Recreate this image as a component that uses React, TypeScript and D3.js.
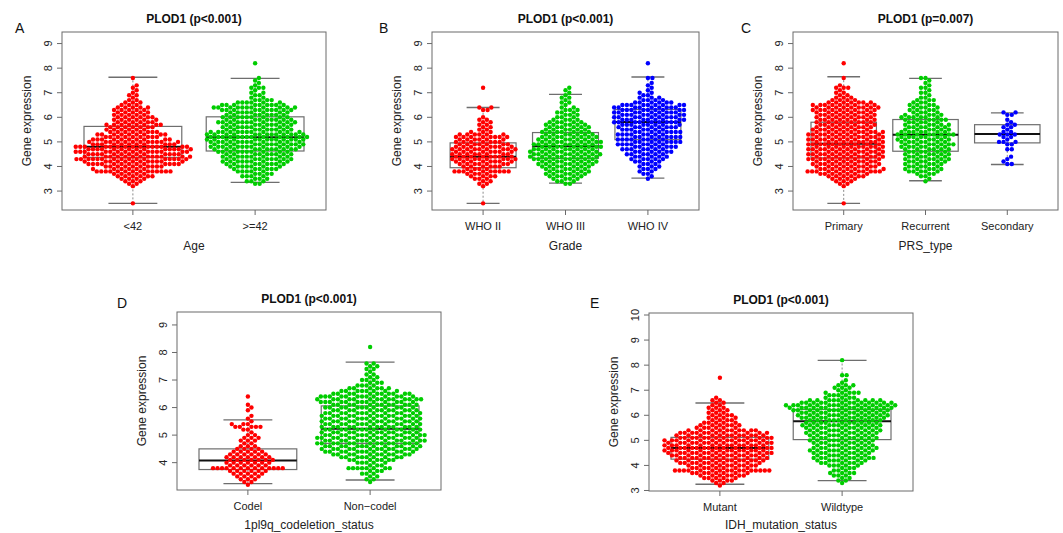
import React, { useMemo } from 'react';
import * as d3 from 'd3';

const BIN_START = 2.5;
const BIN_STEP = 0.1;

const ageUnder42 = [
  1, 0, 0, 0, 0, 0, 0, 1, 2, 3, // 2.5-3.4
  4, 6, 5, 14, 6, 10, 13, 12, 16, 13, // 3.5-4.4
  13, 15, 14, 15, 11, 12, 10, 9, 9, 8, // 4.5-5.4
  6, 7, 8, 6, 6, 6, 5, 5, 5, 5, // 5.5-6.4
  3, 3, 2, 1, 2, 1, 1, 1, 1, 0, // 6.5-7.4
  0, 1, 0, 0, 0, 0, 0, 0, // 7.5-8.2
];
const ageOver42 = [
  0, 0, 0, 0, 0, 0, 0, 0, 2, 3,
  3, 4, 4, 5, 6, 7, 8, 9, 9, 9,
  9, 10, 11, 12, 12, 12, 13, 13, 13, 12,
  9, 9, 9, 11, 9, 9, 8, 8, 10, 11,
  9, 6, 4, 2, 2, 2, 1, 3, 1, 1,
  1, 1, 0, 0, 0, 0, 0, 1,
];
const whoII = [
  1, 0, 0, 0, 0, 0, 0, 1, 2, 2,
  3, 4, 4, 10, 4, 6, 7, 8, 9, 8,
  8, 8, 9, 8, 7, 7, 6, 8, 6, 3,
  2, 2, 2, 2, 2, 1, 0, 0, 2, 2,
  0, 0, 0, 0, 0, 0, 0, 1, 0, 0,
  0, 0, 0, 0, 0, 0, 0, 0,
];
const whoIII = [
  0, 0, 0, 0, 0, 0, 0, 0, 2, 3,
  4, 5, 6, 6, 6, 7, 8, 8, 9, 9,
  10, 9, 9, 9, 9, 9, 8, 8, 7, 7,
  6, 6, 6, 5, 4, 3, 3, 3, 3, 2,
  1, 2, 1, 2, 1, 1, 1, 1, 0, 0,
  0, 0, 0, 0, 0, 0, 0, 0,
];
const whoIV = [
  0, 0, 0, 0, 0, 0, 0, 0, 0, 0,
  1, 1, 2, 2, 3, 3, 3, 4, 5, 5,
  6, 6, 7, 7, 8, 8, 8, 8, 8, 8,
  7, 8, 8, 9, 9, 9, 9, 9, 9, 9,
  9, 6, 4, 3, 2, 2, 1, 1, 1, 1,
  0, 2, 0, 0, 0, 0, 0, 1,
];
const primary = [
  1, 0, 0, 0, 0, 0, 0, 1, 2, 3,
  4, 6, 7, 12, 8, 9, 9, 9, 10, 10,
  10, 10, 10, 10, 10, 10, 10, 10, 10, 10,
  8, 8, 8, 8, 8, 8, 8, 8, 9, 9,
  9, 7, 4, 3, 2, 2, 1, 3, 1, 0,
  0, 1, 0, 0, 0, 0, 0, 1,
];
const recurrent = [
  0, 0, 0, 0, 0, 0, 0, 0, 0, 1,
  1, 2, 3, 5, 5, 5, 5, 6, 6, 6,
  6, 6, 6, 7, 7, 7, 7, 7, 8, 7,
  6, 6, 6, 5, 6, 6, 5, 4, 4, 4,
  4, 3, 3, 2, 1, 2, 1, 2, 1, 1,
  1, 2, 0, 0, 0, 0, 0, 0,
];
const secondary = [
  0, 0, 0, 0, 0, 0, 0, 0, 0, 0,
  0, 0, 0, 0, 0, 0, 2, 1, 1, 1,
  0, 0, 2, 0, 2, 3, 1, 2, 3, 2,
  1, 2, 2, 1, 1, 0, 2, 2, 0, 0,
  0, 0, 0, 0, 0, 0, 0, 0, 0, 0,
  0, 0, 0, 0, 0, 0, 0, 0,
];
const codel = [
  0, 0, 0, 0, 0, 0, 0, 1, 2, 3,
  4, 5, 6, 13, 6, 7, 7, 7, 6, 5,
  4, 3, 2, 3, 3, 2, 1, 2, 5, 3,
  1, 1, 1, 0, 1, 1, 1, 0, 0, 1,
  0, 0, 0, 0, 0, 0, 0, 0, 0, 0,
  0, 0, 0, 0, 0, 0, 0, 0,
];
const nonCodel = [
  0, 0, 0, 0, 0, 0, 0, 0, 1, 2,
  2, 3, 3, 8, 3, 5, 7, 9, 11, 12,
  13, 13, 14, 14, 14, 14, 13, 13, 13, 13,
  13, 13, 13, 13, 12, 12, 12, 13, 14, 13,
  11, 8, 6, 4, 3, 3, 2, 2, 1, 2,
  2, 2, 0, 0, 0, 0, 0, 1,
];
const idhMutant = [
  0, 0, 0, 0, 0, 0, 0, 1, 2, 4,
  5, 7, 8, 16, 8, 10, 11, 12, 12, 13,
  14, 14, 14, 14, 14, 14, 13, 12, 12, 10,
  6, 6, 5, 4, 4, 4, 3, 3, 3, 2,
  2, 2, 1, 0, 0, 0, 0, 0, 0, 0,
  1, 0, 0, 0, 0, 0, 0, 0,
];
const idhWildtype = [
  0, 0, 0, 0, 0, 0, 0, 0, 1, 2,
  2, 3, 4, 3, 3, 5, 6, 7, 9, 7,
  8, 9, 9, 8, 8, 9, 9, 9, 10, 10,
  10, 11, 10, 10, 12, 12, 12, 13, 14, 15,
  13, 10, 4, 4, 5, 2, 3, 3, 1, 1,
  0, 2, 0, 0, 0, 0, 0, 1,
];

// boxplot stats: [lower whisker, Q1, median, Q3, upper whisker]
const ageBoxes = [
  [2.5, 4.37, 4.8, 5.63, 7.63],
  [3.35, 4.63, 5.19, 6.02, 7.58],
];
const gradeBoxes = [
  [2.5, 3.95, 4.4, 4.96, 6.4],
  [3.32, 4.33, 4.82, 5.38, 6.93],
  [3.53, 5.09, 5.81, 6.32, 7.64],
];
const prsBoxes = [
  [2.5, 4.35, 4.92, 5.8, 7.65],
  [3.42, 4.62, 5.29, 5.91, 7.58],
  [4.08, 4.96, 5.32, 5.7, 6.18],
];
const codelBoxes = [
  [3.24, 3.75, 4.08, 4.5, 5.55],
  [3.37, 4.7, 5.23, 6.06, 7.65],
];
const idhBoxes = [
  [3.25, 4.25, 4.7, 5.12, 6.49],
  [3.39, 5.03, 5.76, 6.23, 8.19],
];

const ageLabels = ['<42', '>=42'];
const gradeLabels = ['WHO II', 'WHO III', 'WHO IV'];
const prsLabels = ['Primary', 'Recurrent', 'Secondary'];
const codelLabels = ['Codel', 'Non\u2212codel'];
const idhLabels = ['Mutant', 'Wildtype'];

const COLORS = ['#ff0000', '#00cd00', '#0000ff'];
const FONT = '"Liberation Sans", Arial, Helvetica, sans-serif';
const DOT_R = 2.2;
const SWARM_D = 4.5;

const panels = [
  {
    letter: 'A', letterX: 15, letterY: 33, left: 62, right: 326, top: 32, bottom: 210, xTitleY: 249.5,
    yDomain: [2.23, 9.47], title: 'PLOD1 (p<0.001)', xTitle: 'Age',
    counts: [ageUnder42, ageOver42], boxes: ageBoxes, labels: ageLabels,
  },
  {
    letter: 'B', letterX: 379, letterY: 33, left: 432, right: 699, top: 32, bottom: 210, xTitleY: 249.5,
    yDomain: [2.23, 9.47], title: 'PLOD1 (p<0.001)', xTitle: 'Grade',
    counts: [whoII, whoIII, whoIV], boxes: gradeBoxes, labels: gradeLabels,
  },
  {
    letter: 'C', letterX: 741, letterY: 33, left: 793, right: 1058, top: 32, bottom: 210, xTitleY: 249.5,
    yDomain: [2.23, 9.47], title: 'PLOD1 (p=0.007)', xTitle: 'PRS_type',
    counts: [primary, recurrent, secondary], boxes: prsBoxes, labels: prsLabels,
  },
  {
    letter: 'D', letterX: 117, letterY: 308, left: 177, right: 441, top: 312, bottom: 490, xTitleY: 528.5,
    yDomain: [3.007, 9.47], title: 'PLOD1 (p<0.001)', xTitle: '1pl9q_codeletion_status',
    counts: [codel, nonCodel], boxes: codelBoxes, labels: codelLabels,
  },
  {
    letter: 'E', letterX: 590, letterY: 308, left: 649, right: 913, top: 313, bottom: 491, xTitleY: 528.5,
    yDomain: [2.98, 10.08], title: 'PLOD1 (p<0.001)', xTitle: 'IDH_mutation_status',
    counts: [idhMutant, idhWildtype], boxes: idhBoxes, labels: idhLabels,
  },
];

const expand = (counts: number[]) =>
  counts.flatMap((c, i) => d3.range(c).map(() => +(BIN_START + i * BIN_STEP).toFixed(2)));

// beeswarm "swarm" placement: lowest values first, each point goes to the
// free x offset nearest the centre line.
function swarm(ys: number[], d: number) {
  const order = d3.range(ys.length).sort((a, b) => ys[b] - ys[a]);
  const xs = new Array(ys.length).fill(0);
  const placed: number[] = [];
  for (const i of order) {
    const yi = ys[i];
    const near = placed.filter((j) => Math.abs(ys[j] - yi) < d);
    const cands = [0];
    for (const j of near) {
      const dx = Math.sqrt(d * d - (ys[j] - yi) ** 2);
      cands.push(xs[j] + dx, xs[j] - dx);
    }
    cands.sort((a, b) => Math.abs(a) - Math.abs(b));
    let best = 0;
    for (const c of cands) {
      if (near.every((j) => (xs[j] - c) ** 2 + (ys[j] - yi) ** 2 >= d * d - 1e-6)) {
        best = c;
        break;
      }
    }
    xs[i] = best;
    placed.push(i);
  }
  return xs;
}

const Panel = ({ p }: { p: (typeof panels)[number] }) => {
  const n = p.labels.length;
  const x = d3
    .scaleLinear()
    .domain([0.5 - 0.04 * n, n + 0.5 + 0.04 * n])
    .range([p.left, p.right]);
  const y = d3.scaleLinear().domain(p.yDomain).range([p.bottom, p.top]);
  const yTicks = d3.range(Math.ceil(p.yDomain[0]), Math.floor(p.yDomain[1]) + 1);
  const unit = x(1) - x(0);

  const points = useMemo(
    () =>
      p.counts.map((c, g) => {
        const vals = expand(c);
        const ys = vals.map((v) => y(v));
        const xs = swarm(ys, SWARM_D);
        return vals.map((v, i) => ({ cx: x(g + 1) + xs[i], cy: ys[i] }));
      }),
    [p],
  );

  const midX = (p.left + p.right) / 2;
  const midY = (p.top + p.bottom) / 2;

  return (
    <g>
      <text x={p.letterX} y={p.letterY} fontSize={14} fill="#111">{p.letter}</text>
      <text x={midX} y={p.top - 9.5} textAnchor="middle" fontSize={12} fontWeight="bold" fill="#111">
        {p.title}
      </text>

      {/* boxplots underneath the swarm */}
      {p.boxes.map((b, g) => {
        const cx = x(g + 1);
        const hw = unit * 0.4;
        const sw = unit * 0.2;
        return (
          <g key={g}>
            <line x1={cx} x2={cx} y1={y(b[3])} y2={y(b[4])} stroke="#8a8a8a" strokeDasharray="2,2" />
            <line x1={cx} x2={cx} y1={y(b[1])} y2={y(b[0])} stroke="#8a8a8a" strokeDasharray="2,2" />
            <line x1={cx - sw} x2={cx + sw} y1={y(b[4])} y2={y(b[4])} stroke="#6e6e6e" strokeWidth={1.3} />
            <line x1={cx - sw} x2={cx + sw} y1={y(b[0])} y2={y(b[0])} stroke="#6e6e6e" strokeWidth={1.3} />
            <rect x={cx - hw} y={y(b[3])} width={hw * 2} height={y(b[1]) - y(b[3])} fill="none" stroke="#6e6e6e" strokeWidth={1.2} />
            <line x1={cx - hw} x2={cx + hw} y1={y(b[2])} y2={y(b[2])} stroke="#111" strokeWidth={2} />
          </g>
        );
      })}

      {points.map((pts, g) =>
        pts.map((pt, i) => <circle key={`${g}-${i}`} cx={pt.cx} cy={pt.cy} r={DOT_R} fill={COLORS[g]} />),
      )}

      <rect x={p.left} y={p.top} width={p.right - p.left} height={p.bottom - p.top} fill="none" stroke="#6a6a6a" />

      {yTicks.map((t) => (
        <g key={t}>
          <line x1={p.left - 5} x2={p.left} y1={y(t)} y2={y(t)} stroke="#6a6a6a" />
          <text
            transform={`translate(${p.left - 10.5},${y(t)}) rotate(-90)`}
            textAnchor="middle"
            fontSize={11}
            fill="#222"
          >
            {t}
          </text>
        </g>
      ))}
      {p.labels.map((l, g) => (
        <g key={l}>
          <line x1={x(g + 1)} x2={x(g + 1)} y1={p.bottom} y2={p.bottom + 5} stroke="#6a6a6a" />
          <text x={x(g + 1)} y={p.bottom + 19.5} textAnchor="middle" fontSize={11} fill="#222">
            {l}
          </text>
        </g>
      ))}
      <text x={midX} y={p.xTitleY} textAnchor="middle" fontSize={12} fill="#222">
        {p.xTitle}
      </text>
      <text
        transform={`translate(${p.left - 31},${midY}) rotate(-90)`}
        textAnchor="middle"
        fontSize={12}
        fill="#222"
      >
        Gene expression
      </text>
    </g>
  );
};

export default function App() {
  return (
    <div style={{ position: 'fixed', left: 0, top: 0 }}>
      <svg width={1063} height={533} style={{ display: 'block', background: '#fff', fontFamily: FONT }}>
        <rect width={1063} height={533} fill="#fff" />
        {panels.map((p) => (
          <Panel key={p.letter} p={p} />
        ))}
      </svg>
    </div>
  );
}
